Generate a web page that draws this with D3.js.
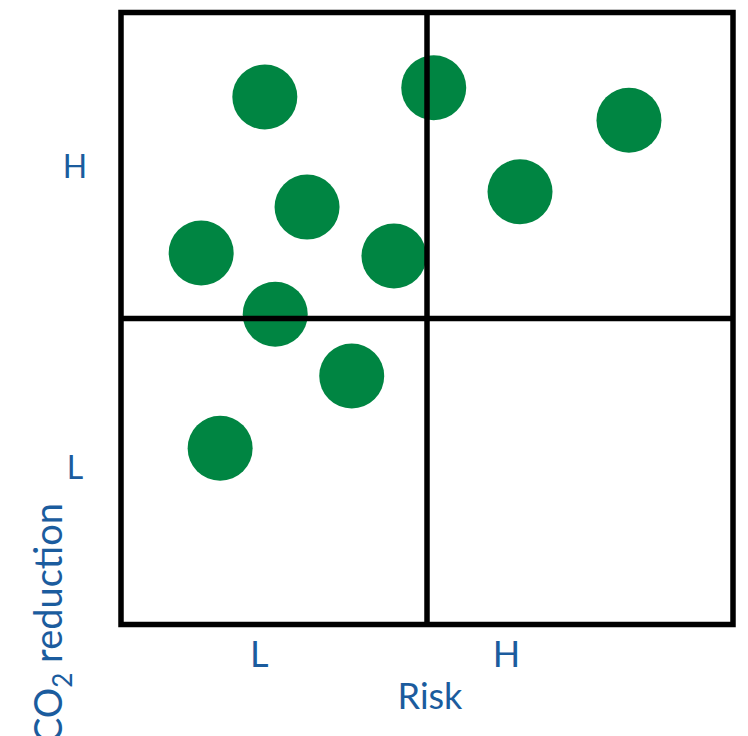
<!DOCTYPE html>
<html>
<head>
<meta charset="utf-8">
<script src="https://cdn.jsdelivr.net/npm/d3@7"></script>
<style>
  html, body { margin: 0; padding: 0; background: #fff; }
  svg { display: block; }
  text { font-family: Lato, "Open Sans", sans-serif; fill: #1b5c9e; }
</style>
</head>
<body>
<svg id="chart" width="748" height="736"></svg>
<script>
// Data (0–10 scale on both axes)
const riskValues = [2.35, 5.11, 8.30, 6.52, 3.04, 1.31, 4.46, 2.52, 3.77, 1.62];
const co2Values  = [8.62, 8.77, 8.24, 7.07, 6.82, 6.07, 6.02, 5.07, 4.06, 2.88];
const xTickValues = [2.25, 6.29];
const xTickLabels = ["L", "H"];
const yTickValues = [2.57, 7.5];
const yTickLabels = ["L", "H"];
const xTitle = "Risk";

const svg = d3.select("#chart");
const x = d3.scaleLinear().domain([0, 10]).range([121, 733]);
const y = d3.scaleLinear().domain([0, 10]).range([624.5, 12.5]);

const points = riskValues.map((v, i) => ({ risk: v, co2: co2Values[i] }));

// Points
svg.append("g").selectAll("circle")
  .data(points)
  .join("circle")
  .attr("cx", d => x(d.risk))
  .attr("cy", d => y(d.co2))
  .attr("r", 32.5)
  .attr("fill", "#008542");

// Quadrant grid
const g = svg.append("g").attr("fill", "none").attr("stroke", "#000").attr("stroke-width", 5.5);
g.append("rect")
  .attr("x", x(0)).attr("y", y(10))
  .attr("width", x(10) - x(0)).attr("height", y(0) - y(10));
g.append("line")
  .attr("x1", x(5)).attr("x2", x(5)).attr("y1", y(0)).attr("y2", y(10));
g.append("line")
  .attr("x1", x(0)).attr("x2", x(10)).attr("y1", y(5)).attr("y2", y(5));

// X tick labels
const xAxis = d3.axisBottom(x).tickValues(xTickValues).tickFormat((d, i) => xTickLabels[i]).tickSize(0).tickPadding(0);
const xa = svg.append("g").call(xAxis);
xa.select(".domain").remove();
xa.selectAll("text")
  .attr("y", 667).attr("dy", null)
  .style("font-size", "36px")
  .attr("fill", "#1b5c9e");

// Y tick labels
const yAxis = d3.axisLeft(y).tickValues(yTickValues).tickFormat((d, i) => yTickLabels[i]).tickSize(0).tickPadding(0);
const ya = svg.append("g").call(yAxis);
ya.select(".domain").remove();
ya.selectAll("text")
  .attr("x", 75).attr("dy", "0.36em")
  .attr("text-anchor", "middle")
  .style("font-size", "32px")
  .attr("fill", "#1b5c9e");

// X title
svg.append("text")
  .attr("x", 430).attr("y", 709)
  .attr("text-anchor", "middle")
  .style("font-size", "36px")
  .text(xTitle);

// Y title with subscript
const yt = svg.append("text")
  .attr("transform", "translate(62,503) rotate(-90)")
  .attr("text-anchor", "end")
  .style("font-size", "38px");
yt.append("tspan").text("CO");
yt.append("tspan").text("2").style("font-size", "26px").attr("dy", "10");
yt.append("tspan").text(" reduction").attr("dy", "-10");
</script>
</body>
</html>
